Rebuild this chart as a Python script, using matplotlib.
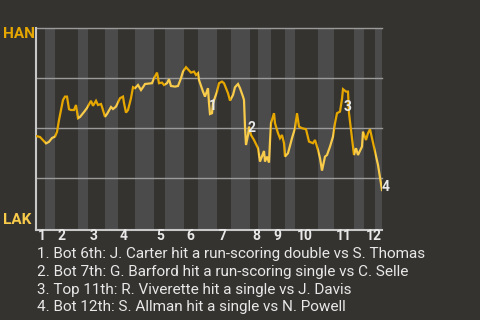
import matplotlib
matplotlib.use("Agg")
import matplotlib.pyplot as plt
from matplotlib.patches import Rectangle
from matplotlib.transforms import blended_transform_factory, ScaledTranslation

# ---- data ----
play_idx = [0, 4, 10, 13, 16, 19, 21, 23, 25, 27, 29, 31, 33, 35, 38, 40, 42, 44, 48, 51,
            55, 57, 60, 62, 65, 66, 69, 71, 75, 77, 80, 84, 87, 88, 90, 92, 95, 97, 99, 102,
            105, 107, 109, 116, 118, 121, 123, 126, 128, 131, 133, 135, 139, 142, 145, 147, 150,
            155, 158, 160, 162, 163, 167, 169, 172, 173, 174, 176, 177, 181, 183, 186, 188, 192,
            194, 197, 199, 202, 204, 207, 208, 209, 210, 212, 213, 215, 218, 222, 224, 228, 229,
            231, 233, 234, 235, 238, 239, 242, 244, 246, 248, 249, 252, 256, 259, 261, 263, 266,
            270, 273, 277, 279, 282, 284, 286, 289, 291, 294, 297, 299, 301, 304, 306, 307, 310,
            312, 313, 315, 318, 320, 322, 326, 327, 330, 332, 334, 336, 339, 342, 346]
han_wp = [0.46, 0.455, 0.423, 0.431, 0.45, 0.457, 0.48, 0.54, 0.59, 0.64, 0.657, 0.657, 0.594,
          0.59, 0.59, 0.615, 0.549, 0.555, 0.58, 0.60, 0.636, 0.611, 0.636, 0.615, 0.62, 0.606,
          0.556, 0.57, 0.605, 0.595, 0.607, 0.649, 0.657, 0.625, 0.577, 0.59, 0.649, 0.704, 0.699,
          0.715, 0.69, 0.704, 0.72, 0.724, 0.749, 0.777, 0.724, 0.727, 0.715, 0.724, 0.744, 0.71,
          0.707, 0.71, 0.749, 0.782, 0.804, 0.777, 0.782, 0.765, 0.774, 0.74, 0.682, 0.657, 0.699,
          0.624, 0.57, 0.574, 0.624, 0.682, 0.724, 0.732, 0.724, 0.674, 0.637, 0.665, 0.704, 0.72,
          0.699, 0.657, 0.64, 0.507, 0.415, 0.465, 0.507, 0.465, 0.44, 0.399, 0.332, 0.385, 0.332,
          0.357, 0.327, 0.432, 0.524, 0.574, 0.524, 0.474, 0.449, 0.465, 0.424, 0.357, 0.374,
          0.449, 0.499, 0.574, 0.507, 0.499, 0.494, 0.432, 0.424, 0.44, 0.39, 0.349, 0.287, 0.357,
          0.365, 0.407, 0.457, 0.524, 0.574, 0.582, 0.645, 0.694, 0.682, 0.682, 0.574, 0.49, 0.365,
          0.399, 0.365, 0.407, 0.482, 0.44, 0.474, 0.494, 0.449, 0.382, 0.315, 0.19]
top_starts = [0, 19, 52, 82, 118, 148, 181, 214, 235, 259, 298, 328]
bot_starts = [9, 42, 69, 99, 129, 162, 195, 222, 249, 282, 318, 339]
game_end = 346
inning_labels = ["1", "2", "3", "4", "5", "6", "7", "8", "9", "10", "11", "12"]
away_team = "HAN"
home_team = "LAK"
marker_labels = ["1", "2", "3", "4"]
marker_x = [177, 215, 312, 350]
marker_y = [0.61, 0.50, 0.605, 0.205]
notes = [
    "1. Bot 6th: J. Carter hit a run-scoring double vs S. Thomas",
    "2. Bot 7th: G. Barford hit a run-scoring single vs C. Selle",
    "3. Top 11th: R. Viverette hit a single vs J. Davis",
    "4. Bot 12th: S. Allman hit a single vs N. Powell",
]

# ---- style ----
BG = "#353330"
BAND = "#4b4b4b"
GRID = "#9a9a9a"
SPINE = "#c8c8c8"
HAN_C = "#e6a800"
LAK_C = "#f8cb4a"
TXT = "#e8e8e8"
FONT = ["Roboto", "DejaVu Sans"]
plt.rcParams['font.family'] = FONT

fig = plt.figure(figsize=(4.8, 3.2), dpi=100, facecolor=BG)
ax = fig.add_axes([36 / 480, 90 / 320, 346 / 480, 202 / 320])
ax.set_facecolor(BG)
ax.set_xlim(0, game_end)
ax.set_ylim(-0.01, 1.0)

# bottom-half bands
ends_top = bot_starts
ends_bot = top_starts[1:] + [game_end]
for s, e in zip(bot_starts, ends_bot):
    ax.axvspan(s, e, color=BAND, lw=0, zorder=0)

for g in [0.25, 0.5, 0.75, 1.0]:
    ax.axhline(g, color=GRID, lw=1.0, zorder=1, clip_on=False)

# line colored by batting team
for starts, ends, col in [(top_starts, ends_top, HAN_C), (bot_starts, ends_bot, LAK_C)]:
    for s, e in zip(starts, ends):
        ln, = ax.plot(play_idx, han_wp, color=col, lw=1.6, zorder=3,
                      solid_joinstyle='miter')
        ln.set_clip_path(Rectangle((s, -1), e - s, 3, transform=ax.transData))

for lab, x, y in zip(marker_labels, marker_x, marker_y):
    ax.text(x, y, lab, color=TXT, fontsize=10, fontweight='bold', ha='center', va='center',
            zorder=4)

for sp in ['top', 'right']:
    ax.spines[sp].set_visible(False)
for sp in ['left', 'bottom']:
    ax.spines[sp].set_color(SPINE)
    ax.spines[sp].set_linewidth(1.5)
ax.set_xticks([])
ax.set_yticks([])

tr = blended_transform_factory(ax.transData, ax.transAxes) + \
    ScaledTranslation(2 / 100, 1 / 100, fig.dpi_scale_trans)
for s, lab in zip(top_starts, inning_labels):
    ax.text(s, 0, lab, transform=tr, ha='left', va='top', color=TXT, fontsize=10,
            fontweight='bold')

fig.text(3 / 480, 1 - 34 / 320, away_team, color=HAN_C, fontsize=11, fontweight='bold',
         ha='left', va='center')
fig.text(3 / 480, 1 - 219.5 / 320, home_team, color=LAK_C, fontsize=11, fontweight='bold',
         ha='left', va='center')

for i, n in enumerate(notes):
    fig.text(37 / 480, 1 - (258.3 + 17.7 * i) / 320, n, color=TXT, fontsize=11,
             ha='left', va='baseline')

fig.savefig("out.png", dpi=100, facecolor=BG)
